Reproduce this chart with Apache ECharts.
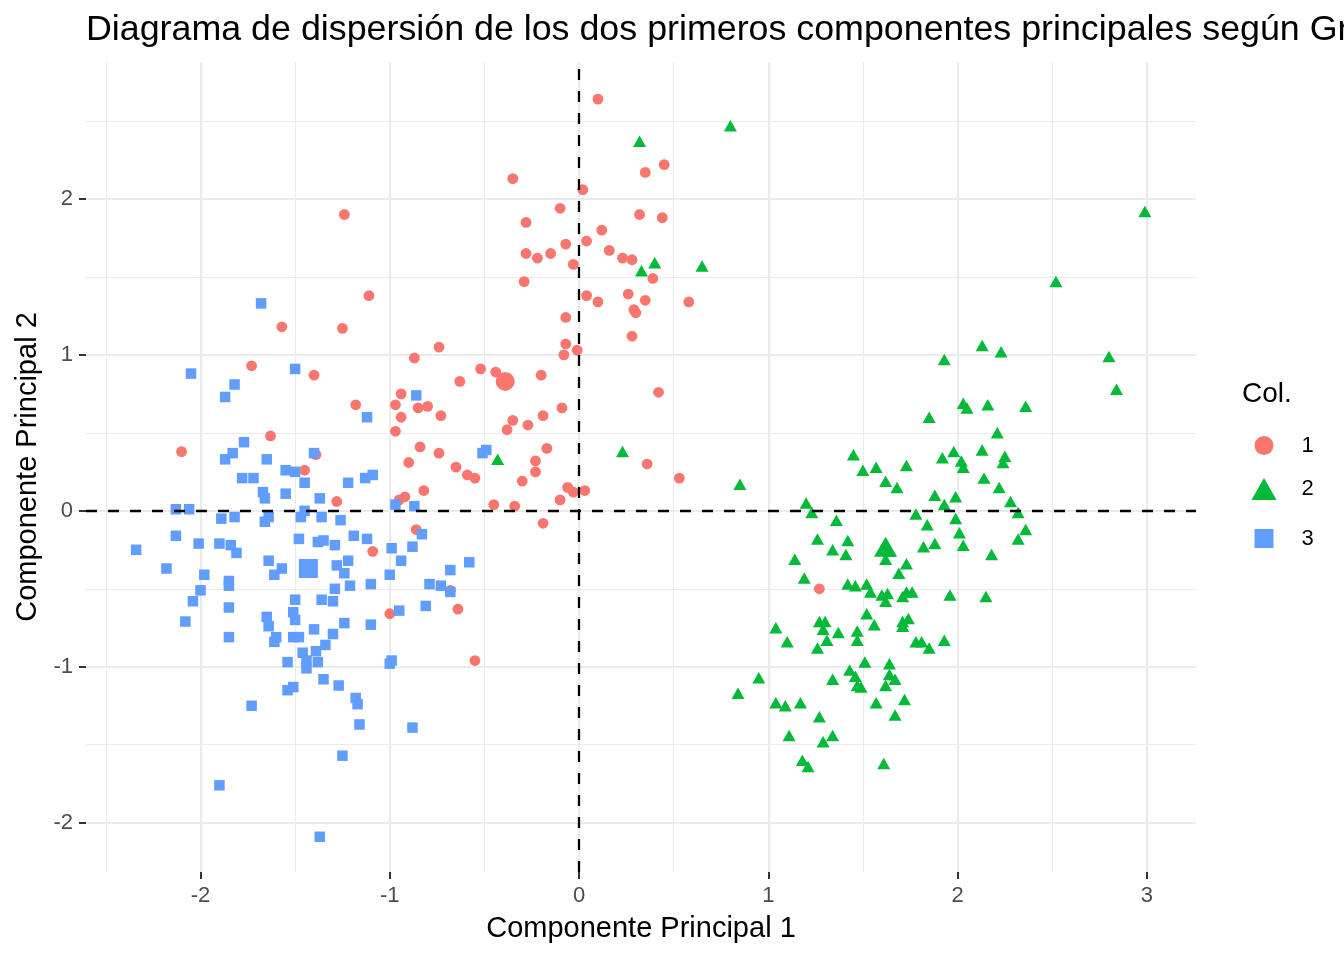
<!DOCTYPE html>
<html>
<head>
<meta charset="utf-8">
<script src="https://cdn.jsdelivr.net/npm/echarts@6/dist/echarts.min.js"></script>
<style>
html,body{margin:0;padding:0;background:#fff;}
#chart{width:1344px;height:960px;}
</style>
</head>
<body>
<div id="chart"></div>
<script>
// ---- data ----
const group1Points = [
[0.10,2.64],[-0.35,2.13],[0.02,2.06],[0.35,2.17],[0.45,2.22],[-1.24,1.90],[-0.10,1.94],[-0.28,1.85],[0.32,1.90],[0.44,1.88],
[0.12,1.80],[0.04,1.73],[-0.07,1.71],[0.16,1.67],[-0.28,1.65],[-0.22,1.62],[-0.15,1.65],[0.23,1.62],[0.28,1.61],[-0.03,1.58],
[0.39,1.49],[-0.29,1.47],[0.26,1.39],[0.04,1.38],[0.10,1.34],[0.35,1.35],[0.58,1.34],[0.29,1.29],[0.30,1.27],[-0.07,1.24],
[0.28,1.12],[-0.07,1.07],[-0.01,1.03],[-0.08,1.00],[-0.74,1.05],[-0.52,0.91],[-0.44,0.89],[-0.63,0.83],[-0.20,0.87],[0.42,0.76],
[-0.73,0.61],[-0.09,0.66],[-0.35,0.58],[-0.19,0.61],[-0.27,0.55],[-0.38,0.52],[-0.17,0.40],[-0.74,0.37],[-0.23,0.32],[0.36,0.30],
[-0.65,0.28],[-0.59,0.23],[-0.55,0.21],[-0.30,0.19],[-0.23,0.25],[-0.06,0.15],[-0.03,0.12],[0.03,0.13],[-0.10,0.07],[-0.45,0.04],
[-0.34,0.03],[-0.19,-0.08],[0.53,0.21],[-0.68,-0.51],[-0.64,-0.63],[-0.55,-0.96],[-1.11,1.38],[-1.57,1.18],[-1.25,1.17],[-0.87,0.98],
[-1.73,0.93],[-1.40,0.87],[-0.94,0.75],[-0.97,0.68],[-1.18,0.68],[-0.85,0.66],[-0.80,0.67],[-0.94,0.60],[-0.97,0.51],[-1.63,0.48],
[-2.10,0.38],[-0.84,0.41],[-0.90,0.31],[-1.39,0.36],[-1.45,0.26],[-0.82,0.13],[-0.95,0.07],[-0.92,0.09],[-1.28,0.06],[-0.86,-0.12],
[-1.09,-0.26],[-1.00,-0.66],[1.27,-0.50]
];
const group2Points = [
[0.80,2.47],[0.32,2.37],[0.40,1.59],[0.33,1.54],[0.65,1.57],[0.23,0.38],[-0.43,0.33],[0.85,0.17],[0.84,-1.17],[2.99,1.92],
[2.52,1.47],[2.13,1.06],[2.23,1.02],[1.93,0.97],[2.80,0.99],[2.84,0.78],[2.03,0.69],[2.05,0.66],[2.16,0.68],[2.36,0.67],
[1.85,0.60],[2.21,0.50],[1.45,0.36],[1.50,0.26],[1.57,0.28],[1.62,0.19],[1.68,0.15],[1.73,0.29],[1.92,0.34],[1.98,0.38],
[2.02,0.32],[2.03,0.28],[2.13,0.39],[2.25,0.35],[2.24,0.31],[2.14,0.21],[2.22,0.15],[1.88,0.10],[1.99,0.09],[1.93,0.04],
[2.28,0.06],[2.32,-0.01],[1.20,0.05],[1.23,-0.01],[1.78,-0.02],[1.99,-0.05],[1.36,-0.06],[1.84,-0.09],[2.01,-0.14],[2.36,-0.12],
[2.32,-0.18],[2.03,-0.22],[1.26,-0.18],[1.42,-0.19],[1.34,-0.25],[1.41,-0.28],[1.60,-0.25],[1.64,-0.26],[1.62,-0.31],[1.82,-0.23],
[1.88,-0.21],[2.18,-0.28],[1.14,-0.31],[1.73,-0.34],[1.69,-0.40],[1.19,-0.43],[1.42,-0.47],[1.46,-0.48],[1.52,-0.47],[1.54,-0.52],
[1.60,-0.54],[1.63,-0.53],[1.62,-0.58],[1.71,-0.55],[1.73,-0.52],[1.76,-0.52],[1.96,-0.54],[2.15,-0.55],[1.52,-0.66],[1.56,-0.73],
[1.71,-0.71],[1.74,-0.69],[1.71,-0.74],[1.27,-0.71],[1.30,-0.71],[1.29,-0.76],[1.37,-0.78],[1.47,-0.77],[1.47,-0.83],[1.31,-0.83],
[1.26,-0.88],[1.04,-0.75],[1.10,-0.84],[1.78,-0.84],[1.81,-0.84],[1.85,-0.88],[1.93,-0.83],[0.95,-1.07],[1.34,-1.08],[1.43,-1.02],
[1.46,-1.06],[1.51,-0.97],[1.47,-1.12],[1.49,-1.13],[1.64,-0.98],[1.64,-1.05],[1.67,-1.08],[1.62,-1.12],[1.04,-1.23],[1.09,-1.25],
[1.17,-1.23],[1.57,-1.23],[1.72,-1.21],[1.27,-1.32],[1.67,-1.31],[1.11,-1.44],[1.29,-1.48],[1.34,-1.44],[1.18,-1.60],[1.21,-1.64],
[1.61,-1.62]
];
const group3Points = [
[-1.68,1.33],[-2.05,0.88],[-1.50,0.91],[-1.82,0.81],[-1.87,0.73],[-0.86,0.74],[-1.12,0.60],[-1.77,0.44],[-1.83,0.37],[-1.87,0.33],
[-1.65,0.33],[-1.40,0.37],[-1.55,0.26],[-1.50,0.25],[-1.78,0.21],[-1.72,0.21],[-1.45,0.18],[-1.22,0.18],[-1.13,0.21],[-1.09,0.23],
[-1.67,0.12],[-1.66,0.08],[-1.55,0.11],[-1.37,0.08],[-1.45,0.00],[-1.47,-0.04],[-1.36,-0.04],[-1.26,-0.06],[-2.13,0.01],[-2.06,0.01],
[-1.89,-0.05],[-1.82,-0.04],[-1.64,-0.04],[-1.66,-0.07],[-0.97,0.04],[-0.87,0.03],[-2.13,-0.16],[-2.34,-0.25],[-2.01,-0.21],[-1.90,-0.21],
[-1.84,-0.22],[-1.81,-0.27],[-1.48,-0.18],[-1.38,-0.20],[-1.35,-0.19],[-1.29,-0.22],[-1.19,-0.16],[-1.12,-0.18],[-0.99,-0.24],[-0.88,-0.23],
[-0.83,-0.15],[-2.18,-0.37],[-1.98,-0.41],[-1.64,-0.32],[-1.57,-0.37],[-1.61,-0.41],[-1.28,-0.35],[-1.24,-0.40],[-1.22,-0.32],[-0.94,-0.32],
[-1.00,-0.41],[-0.68,-0.38],[-0.79,-0.47],[-0.73,-0.48],[-0.68,-0.52],[-2.00,-0.51],[-2.04,-0.58],[-2.08,-0.71],[-1.85,-0.45],[-1.85,-0.48],
[-1.85,-0.62],[-1.85,-0.81],[-1.50,-0.57],[-1.36,-0.57],[-1.30,-0.58],[-1.29,-0.50],[-1.21,-0.48],[-1.10,-0.47],[-1.65,-0.68],[-1.64,-0.74],
[-1.51,-0.65],[-1.50,-0.70],[-1.40,-0.76],[-1.24,-0.72],[-1.10,-0.73],[-0.95,-0.64],[-0.81,-0.61],[-1.60,-0.81],[-1.61,-0.84],[-1.51,-0.81],
[-1.48,-0.81],[-1.30,-0.79],[-1.34,-0.86],[-1.39,-0.90],[-1.46,-0.91],[-1.54,-0.97],[-1.44,-0.96],[-1.44,-1.01],[-1.38,-0.97],[-0.99,-0.96],
[-1.00,-0.98],[-1.35,-1.08],[-1.27,-1.12],[-1.54,-1.15],[-1.51,-1.13],[-1.73,-1.25],[-1.18,-1.20],[-1.17,-1.24],[-1.16,-1.37],[-0.88,-1.39],
[-1.25,-1.57],[-1.90,-1.76],[-1.37,-2.09],[-0.49,0.39],[-0.51,0.37],[-0.58,-0.33]
];
const centroid1 = [-0.39, 0.83];
const centroid2 = [1.62, -0.23];
const centroid3 = [-1.43, -0.37];

const groupNames = ['1', '2', '3'];
const xMajorTicks = [-2, -1, 0, 1, 2, 3];
const xMinorTicks = [-2.5, -1.5, -0.5, 0.5, 1.5, 2.5];
const yMajorTicks = [-2, -1, 0, 1, 2];
const yMinorTicks = [-1.5, -0.5, 0.5, 1.5, 2.5];

const chartTitle = 'Diagrama de dispersión de los dos primeros componentes principales según Grupo';
const xTitle = 'Componente Principal 1';
const yTitle = 'Componente Principal 2';
const legendTitle = 'Col.';

// ---- chart ----
const FONT = 'Liberation Sans, Arial, Helvetica, sans-serif';
const COLORS = ['#F8766D', '#00BA38', '#619CFF'];
const X_MIN = -2.605, X_MAX = 3.26, Y_MIN = -2.316, Y_MAX = 2.878;
const GRID_COL = '#EBEBEB';

const chart = echarts.init(document.getElementById('chart'), null, {renderer: 'canvas'});

function majorAxis(min, max, ticks) {
  return {
    type: 'value', min: min, max: max,
    axisLine: {show: false, onZero: false},
    axisTick: {show: true, customValues: ticks, length: 7, lineStyle: {color: '#333333', width: 2}},
    axisLabel: {show: true, customValues: ticks, margin: 13, color: '#4D4D4D', fontSize: 22, fontFamily: FONT,
      formatter: v => String(v)},
    splitLine: {show: true, lineStyle: {color: GRID_COL, width: 2.2}},
    minorSplitLine: {show: false}
  };
}
function minorAxis(min, max, ticks) {
  return {
    type: 'value', min: min, max: max,
    axisLine: {show: false, onZero: false},
    axisTick: {show: false, customValues: ticks},
    axisLabel: {show: false, customValues: ticks},
    splitLine: {show: true, lineStyle: {color: GRID_COL, width: 1.1}}
  };
}

const xMain = majorAxis(X_MIN, X_MAX, xMajorTicks);
xMain.name = xTitle; xMain.nameLocation = 'middle'; xMain.nameGap = 42;
xMain.nameTextStyle = {fontSize: 29, color: '#000', fontFamily: FONT};
const yMain = majorAxis(Y_MIN, Y_MAX, yMajorTicks);
yMain.name = yTitle; yMain.nameLocation = 'middle'; yMain.nameGap = 44;
yMain.nameTextStyle = {fontSize: 29, color: '#000', fontFamily: FONT};

function legendFor(name, icon, w, h, centerY, pad) {
  return {
    show: true, selectedMode: false, orient: 'vertical', padding: 0,
    left: 1264 - w / 2, top: centerY - h / 2,
    itemWidth: w, itemHeight: h, icon: icon,
    data: [{name: name, icon: icon}],
    textStyle: {fontSize: 22, color: '#000', fontFamily: FONT, padding: [0, 0, 0, pad]}
  };
}

const option = {
  backgroundColor: '#fff',
  animation: false,
  title: [
    {text: chartTitle, left: 86, top: 12, padding: 0,
     textStyle: {fontSize: 35.8, fontWeight: 'normal', color: '#000', fontFamily: FONT}},
    {text: legendTitle, left: 1242, top: 380, padding: 0,
     textStyle: {fontSize: 28, fontWeight: 'normal', color: '#000', fontFamily: FONT}}
  ],
  grid: {left: 86, right: 148, top: 62, bottom: 88, containLabel: false},
  xAxis: [xMain, minorAxis(X_MIN, X_MAX, xMinorTicks)],
  yAxis: [yMain, minorAxis(Y_MIN, Y_MAX, yMinorTicks)],
  legend: [
    legendFor(groupNames[0], 'circle', 19, 19, 444, 23),
    legendFor(groupNames[1], 'triangle', 25, 22, 489, 20),
    legendFor(groupNames[2], 'rect', 19, 19, 537, 23)
  ],
  series: [
    {
      name: groupNames[0], type: 'scatter', xAxisIndex: 0, yAxisIndex: 0,
      symbol: 'circle', symbolSize: 10.8,
      itemStyle: {color: COLORS[0], opacity: 1},
      data: group1Points.concat([{value: centroid1, symbolSize: 19}]),
      z: 2,
      markLine: {
        silent: true, symbol: ['none', 'none'], label: {show: false}, z: 10,
        lineStyle: {color: '#000', type: [11, 11], width: 2.3},
        emphasis: {disabled: true},
        data: [{xAxis: 0}, {yAxis: 0}]
      }
    },
    {
      name: groupNames[1], type: 'scatter', xAxisIndex: 0, yAxisIndex: 0,
      symbol: 'triangle', symbolSize: [13, 11.5],
      itemStyle: {color: COLORS[1], opacity: 1},
      data: group2Points.concat([{value: centroid2, symbolSize: [23, 20]}]),
      z: 3
    },
    {
      name: groupNames[2], type: 'scatter', xAxisIndex: 0, yAxisIndex: 0,
      symbol: 'rect', symbolSize: 10.5,
      itemStyle: {color: COLORS[2], opacity: 1},
      data: group3Points.concat([{value: centroid3, symbolSize: 19}]),
      z: 4
    }
  ]
};
chart.setOption(option);
</script>
</body>
</html>
